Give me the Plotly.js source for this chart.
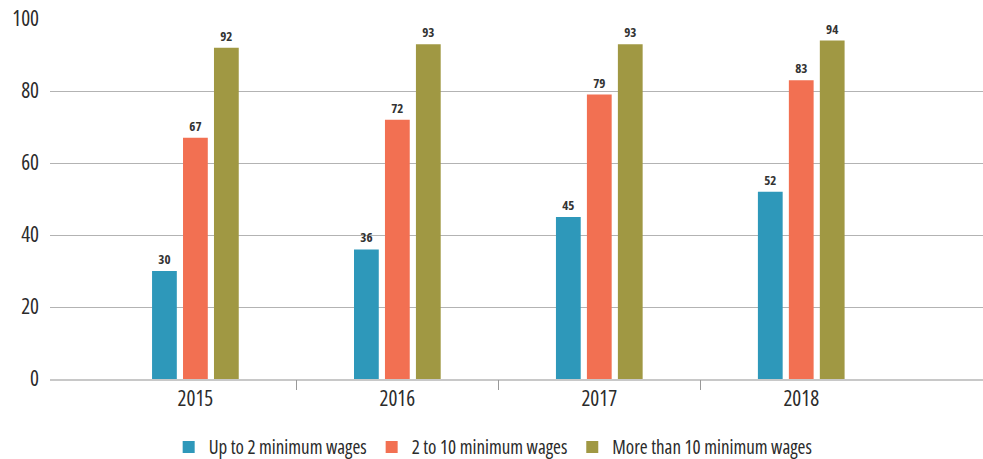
<!DOCTYPE html>
<html>
<head>
<meta charset="utf-8">
<script src="https://cdn.plot.ly/plotly-3.0.1.min.js"></script>
<style>
html,body{margin:0;padding:0;background:#fff;}
#chart{width:983px;height:459px;}
text{font-stretch:condensed;}
</style>
</head>
<body>
<div id="chart"></div>
<script>
const years = ["2015", "2016", "2017", "2018"];
const seriesNames = ["Up to 2 minimum wages", "2 to 10 minimum wages", "More than 10 minimum wages"];
const upTo2 = [30, 36, 45, 52];
const from2to10 = [67, 72, 79, 83];
const moreThan10 = [92, 93, 93, 94];
const yTicks = [0, 20, 40, 60, 80, 100];
const colors = ["#2E98BA", "#F27052", "#A09843"];

const FONT = "'Open Sans', 'Roboto Condensed', sans-serif";
const allSeries = [upTo2, from2to10, moreThan10];

const traces = allSeries.map((vals, i) => ({
  type: "bar",
  name: seriesNames[i],
  x: years,
  y: vals,
  marker: {color: colors[i]},
  text: vals.map(String),
  textposition: "outside",
  textfont: {family: FONT, size: 13, color: "#333333", weight: "bold"},
  cliponaxis: false,
  hoverinfo: "none"
}));

// boundary ticks between categories (drawn by an overlay axis)
traces.push({
  type: "scatter", x: [0.5, 1.5, 2.5], y: [0, 0, 0], xaxis: "x2",
  mode: "markers", marker: {opacity: 0}, showlegend: false, hoverinfo: "none"
});

const layout = {
  width: 983, height: 459,
  margin: {l: 50, r: 0, t: 19, b: 80, autoexpand: false},
  paper_bgcolor: "#fff", plot_bgcolor: "#fff",
  font: {family: FONT, color: "#2b2b2b"},
  barmode: "group",
  bargap: 0.54,
  bargroupgap: 0.2,
  showlegend: true,
  legend: {
    orientation: "h", x: 0.475, xanchor: "center",
    yref: "container", y: 0.026, yanchor: "middle",
    font: {family: FONT, size: 19, color: "#2b2b2b"},
    itemwidth: 30, traceorder: "normal"
  },
  xaxis: {
    type: "category",
    range: [-0.72, 3.9],
    showgrid: false, zeroline: false,
    showline: true, linecolor: "#c8c8c8", linewidth: 2,
    ticks: "", tickfont: {family: FONT, size: 21, color: "#2b2b2b"},
    fixedrange: true
  },
  xaxis2: {
    overlaying: "x", anchor: "y", type: "linear",
    range: [-0.72, 3.9],
    showgrid: false, zeroline: false, showline: false,
    tickmode: "array", tickvals: [0.5, 1.5, 2.5], showticklabels: false,
    ticks: "outside", ticklen: 10, tickwidth: 1, tickcolor: "#999999",
    side: "bottom"
  },
  yaxis: {
    range: [0, 100],
    tickmode: "array", tickvals: yTicks,
    showgrid: true, gridcolor: "#b3b3b3", gridwidth: 1,
    zeroline: false, showline: false,
    ticks: "", ticklabelstandoff: 10,
    tickfont: {family: FONT, size: 21, color: "#2b2b2b"},
    fixedrange: true
  }
};

Plotly.newPlot("chart", traces, layout, {displayModeBar: false, staticPlot: true});
</script>
</body>
</html>
